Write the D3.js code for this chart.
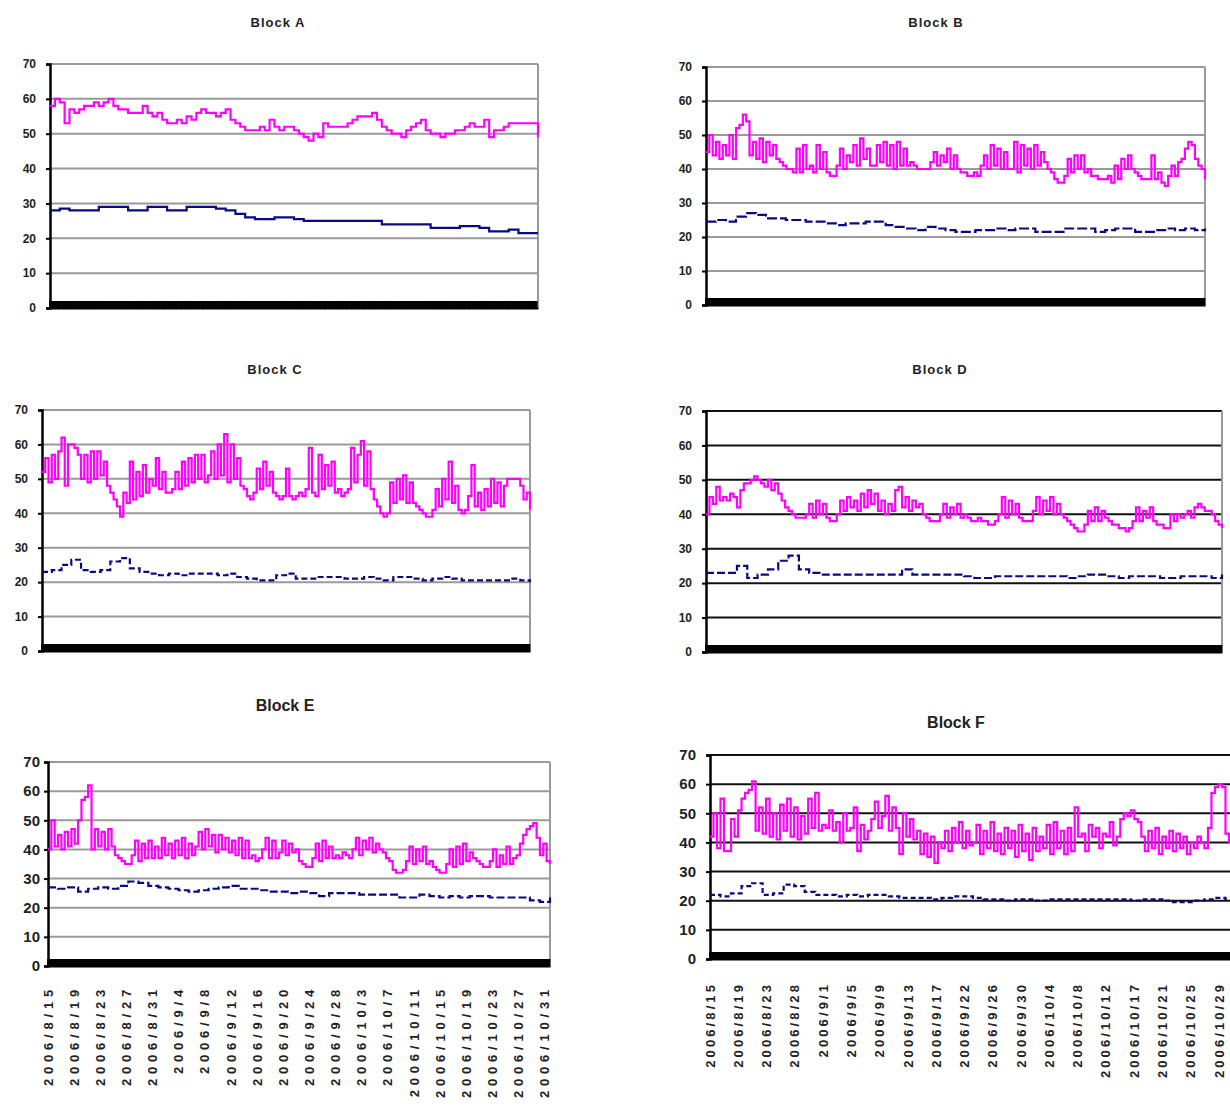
<!DOCTYPE html>
<html>
<head>
<meta charset="utf-8">
<script src="https://cdn.jsdelivr.net/npm/d3@7"></script>
<style>
body { margin: 0; background: #fff; }
svg { display: block; }
text { font-family: "Liberation Sans", Arial, sans-serif; fill: #222; }
</style>
</head>
<body>
<div id="chart"></div>
<script>
/* values */
var yTicks = [0, 10, 20, 30, 40, 50, 60, 70];

var labelsE = ["2006/8/15","2006/8/19","2006/8/23","2006/8/27","2006/8/31","2006/9/4","2006/9/8",
	"2006/9/12","2006/9/16","2006/9/20","2006/9/24","2006/9/28","2006/10/3","2006/10/7",
	"2006/10/11","2006/10/15","2006/10/19","2006/10/23","2006/10/27","2006/10/31"];
var labelsF = ["2006/8/15","2006/8/19","2006/8/23","2006/8/28","2006/9/1","2006/9/5","2006/9/9",
	"2006/9/13","2006/9/17","2006/9/22","2006/9/26","2006/9/30","2006/10/4","2006/10/8",
	"2006/10/12","2006/10/17","2006/10/21","2006/10/25","2006/10/29"];

var magentaA = [58,60,59,53,57,56,57,58,58,59,58,59,60,58,57,57,56,56,56,58,56,55,56,54,53,53,54,53,55,54,
	56,57,56,56,55,56,57,54,53,52,51,51,51,52,51,54,52,51,52,52,51,50,49,48,50,49,53,52,52,52,
	52,53,54,55,55,55,56,54,52,51,50,50,49,51,52,53,54,51,50,50,49,50,50,51,51,52,53,52,52,54,
	49,51,51,52,53,53,53,53,53,53,49];
var navyA = [28,28.5,28,28,28,29,29,29,28,28,29,29,28,28,29,29,29,28.5,28,27,26,25.5,25.5,26,26,25.5,
	25,25,25,25,25,25,25,25,24,24,24,24,24,23,23,23,23.5,23.5,23,22,22,22.5,21.5,21.5,21.5];

var magentaB = [45,50,44,48,43,47,44,50,43,52,53,56,54,44,48,43,49,42,48,44,47,43,42,41,40,40,
	39,46,39,47,40,41,39,47,40,45,39,38,38,41,46,40,44,42,47,41,49,43,46,41,41,47,42,48,
	41,47,40,48,41,46,41,42,41,40,40,40,40,42,45,41,44,42,46,40,44,40,39,39,38,38,39,38,
	41,44,40,47,41,46,40,45,40,40,48,39,47,41,46,40,47,41,45,42,40,39,37,36,36,
	38,43,39,44,40,44,39,40,38,38,37,37,37,38,36,41,37,43,40,44,40,39,38,37,37,37,44,
	37,39,36,35,38,41,38,42,43,46,48,47,43,41,40,37];
var navyB = [24.5,25,24.5,26,27,26.5,25.5,25.5,25,25,24.5,24.5,24,23.5,24,24,24.5,24.5,23.5,23,
	22.5,22,23,22.5,22,21.5,21.5,22,22,22.5,22,22.5,22.5,21.5,21.5,21.5,22.5,22.5,22.5,21.5,
	22,22.5,22.5,21.5,21.5,22,22.5,22,22.5,22,22.5];

var magentaC = [52,56,49,57,50,58,62,48,60,60,59,57,50,57,49,58,50,58,51,55,48,46,44,42,39,
	46,43,55,44,52,45,54,46,50,48,56,47,52,46,46,47,52,47,55,48,56,49,57,50,57,49,51,
	58,50,60,51,63,49,60,50,56,48,47,45,44,46,53,47,55,48,52,46,45,44,45,53,45,44,45,46,45,
	47,59,46,45,57,47,54,48,55,46,47,45,46,47,59,49,57,61,48,58,47,44,42,40,39,40,
	49,43,50,44,51,43,49,43,42,41,40,39,39,41,47,42,50,44,55,43,48,41,40,41,45,54,
	42,46,41,47,42,50,43,49,42,48,50,50,50,50,48,44,46,41];
var navyC = [23,23.5,25,26.5,23.5,23,23.5,26,27,24,23,22.5,22,22.5,22,22.5,22.5,22.5,22,22.5,
	21.5,21,20.5,20.5,22,22.5,21,21,21.5,21.5,21.5,21,21,21.5,21,20.5,21.5,21.5,21,20.5,
	21,21.5,21,20.5,20.5,20.5,20.5,20.5,21,20.5,20];

var magentaD = [40,45,43,48,44,45,44,46,45,42,47,49,49,50,51,50,49,48,50,47,49,46,44,42,
	41,40,39,39,39,40,43,39,44,40,43,39,38,38,40,44,41,45,42,44,41,46,42,47,43,46,41,
	44,40,43,41,47,48,42,45,41,44,42,43,40,39,38,38,38,40,43,39,42,40,43,39,
	40,39,38,38,39,38,38,37,37,38,40,45,39,44,40,43,39,38,38,38,41,45,40,44,41,45,40,
	43,40,39,38,37,36,35,35,37,41,38,42,38,41,39,38,37,37,36,36,35,36,38,42,38,41,39,42,38,
	37,37,36,36,40,38,40,39,40,41,39,42,43,42,41,41,40,38,37,36];
var navyD = [23,23,23,25,21.5,22.5,24,26.5,28,24,23,22.5,22.5,22.5,22.5,22.5,22.5,22.5,22.5,24,
	22.5,22.5,22.5,22.5,22.5,22,21.5,21.5,22,22,22,22,22,22,22,21.5,22,22.5,22.5,22,
	21.5,22,22,22,21.5,21.5,22,22,22,21.5,22.5];

var magentaE = [40,50,41,45,40,46,41,47,42,50,57,58,62,40,47,41,46,40,47,41,38,37,36,35,35,
	38,43,36,42,37,43,37,41,37,44,38,42,37,43,38,44,37,42,38,41,46,40,47,41,45,
	39,45,40,44,39,43,38,44,37,43,37,38,36,37,40,44,37,43,37,39,43,38,42,39,40,
	36,35,34,34,37,42,36,43,37,41,37,38,37,39,38,37,40,44,38,43,40,44,39,42,40,39,37,36,
	33,32,32,33,36,41,35,40,36,41,35,36,34,33,32,32,35,40,34,41,35,42,36,39,37,
	36,35,34,34,36,40,34,38,35,41,35,37,38,42,45,47,48,49,44,38,42,36,35];
var navyE = [27,26.5,27,25.5,26.5,27,26.5,27.5,29,28.5,27.5,27,26.5,26,25.5,26,26.5,27,27.5,26.5,
	26.5,26,25.5,25.5,25,25.5,25,24,25,25,25,24.5,24.5,24.5,24.5,23.5,23.5,24.5,24,23.5,
	24,23.5,24,24,23.5,23.5,23.5,23.5,22.5,22,23.5];

var magentaF = [42,50,38,55,37,37,48,42,51,55,57,58,61,44,52,43,55,42,50,41,53,44,55,
	42,52,41,49,43,55,45,57,44,46,45,51,44,47,40,50,44,45,52,37,46,41,
	44,48,54,45,49,56,44,52,45,36,50,42,48,41,44,36,43,35,42,33,40,
	38,44,37,45,40,47,38,44,39,40,46,36,44,38,47,37,43,36,45,38,
	44,35,46,37,43,34,45,37,42,38,46,36,47,38,44,36,45,37,52,
	42,43,37,46,42,45,38,43,42,47,39,42,48,50,49,51,48,47,42,
	37,44,38,45,36,42,38,44,37,43,38,42,36,40,38,42,40,38,45,57,59,60,59,43,40,38,39];
var navyF = [22,21.5,22.5,25,26,22,22.5,25.5,25,23,22,22,21.5,22,21.5,22,22,21.5,21,21,
	21,20.5,21,21.5,21.5,21,20.5,20.5,20,20.5,20.5,20,20.5,20.5,20.5,20.5,20.5,20.5,20.5,20.5,
	20,20.5,20.5,20,19.5,19.5,20,20.5,21,20.5,20.5];

/* layout of the six panels */
var panels = [
	{title: "Block A", tx: 278, ty: 22, tsize: 13, left: 50, right: 538, top: 64, bottom: 308,
	 lsize: 12, pad: 10, grid: "#9a9a9a", mag: magentaA, navy: navyA, dash: null},
	{title: "Block B", tx: 936, ty: 22, tsize: 13, left: 706, right: 1205, top: 67, bottom: 305,
	 lsize: 12, pad: 10, grid: "#9a9a9a", mag: magentaB, navy: navyB, dash: "10 3"},
	{title: "Block C", tx: 275, ty: 369, tsize: 13, left: 42, right: 530, top: 410, bottom: 651,
	 lsize: 12, pad: 10, grid: "#9a9a9a", mag: magentaC, navy: navyC, dash: "6 3"},
	{title: "Block D", tx: 940, ty: 369, tsize: 13, left: 706, right: 1222, top: 411, bottom: 652,
	 lsize: 12, pad: 10, grid: "#111", mag: magentaD, navy: navyD, dash: "8 3"},
	{title: "Block E", tx: 285, ty: 705, tsize: 16, left: 48, right: 550, top: 762, bottom: 966,
	 lsize: 15, pad: 4, grid: "#9a9a9a", mag: magentaE, navy: navyE, dash: "8 3",
	 labels: labelsE, span: 19.2, lspace: 4.8, loff: 19},
	{title: "Block F", tx: 956, ty: 722, tsize: 16, left: 710, right: 1236, top: 755, bottom: 959,
	 lsize: 15, pad: 10, grid: "#111", mag: magentaF, navy: navyF, dash: "5 3",
	 labels: labelsF, span: 18.6, lspace: 3.1, loff: 23}
];

var svg = d3.select("#chart")
	.append("svg")
	.attr("width", 1230)
	.attr("height", 1113);

panels.forEach(function(p) {
	var g = svg.append("g");

	var y = d3.scaleLinear().domain([0, 70]).range([p.bottom, p.top]);
	var xm = d3.scaleLinear().domain([0, p.mag.length - 1]).range([p.left, p.right]);
	var xn = d3.scaleLinear().domain([0, p.navy.length - 1]).range([p.left, p.right]);

	// title
	g.append("text")
		.attr("x", p.tx)
		.attr("y", p.ty)
		.attr("dy", "0.35em")
		.attr("text-anchor", "middle")
		.style("font-size", p.tsize + "px")
		.style("font-weight", "bold")
		.style("letter-spacing", p.tsize < 16 ? "1px" : "0px")
		.text(p.title);

	// gridlines
	g.selectAll(".grid")
		.data(yTicks.filter(function(d) { return d > 0; }))
		.enter()
		.append("line")
		.attr("class", "grid")
		.attr("x1", p.left)
		.attr("x2", p.right)
		.attr("y1", function(d) { return y(d); })
		.attr("y2", function(d) { return y(d); })
		.style("stroke", p.grid)
		.style("stroke-width", 2);

	// right border
	g.append("line")
		.attr("x1", p.right).attr("x2", p.right)
		.attr("y1", y(70)).attr("y2", y(0))
		.style("stroke", "#9a9a9a")
		.style("stroke-width", 2);

	// category axis: dense tick marks merge into the black band
	var xAxis = d3.axisBottom(xm)
		.tickValues(d3.range(0, p.mag.length - 1, 0.5))
		.tickSizeInner(-7)
		.tickSizeOuter(0)
		.tickFormat("");
	var gx = g.append("g")
		.attr("transform", "translate(0," + y(0) + ")")
		.call(xAxis);
	gx.selectAll("line").style("stroke", "#000").style("stroke-width", 3);
	gx.select(".domain").style("stroke", "#000").style("stroke-width", 2);

	// value axis
	var yAxis = d3.axisLeft(y)
		.tickValues(yTicks)
		.tickSize(4)
		.tickPadding(p.pad);
	var gy = g.append("g")
		.attr("transform", "translate(" + p.left + ",0)")
		.call(yAxis);
	gy.select(".domain").style("stroke", "#000").style("stroke-width", 2.5);
	gy.selectAll(".tick line").style("stroke", "#000").style("stroke-width", 2);
	gy.selectAll("text")
		.style("font-size", p.lsize + "px")
		.style("font-weight", "bold")
		.style("font-family", "'Liberation Sans', Arial, sans-serif")
		.style("fill", "#222");

	// series
	var magLine = d3.line()
		.x(function(d, i) { return xm(i); })
		.y(function(d) { return y(d); })
		.curve(d3.curveStepAfter);
	var navyLine = d3.line()
		.x(function(d, i) { return xn(i); })
		.y(function(d) { return y(d); })
		.curve(d3.curveStepAfter);

	g.append("path")
		.datum(p.navy)
		.attr("d", navyLine)
		.style("fill", "none")
		.style("stroke", "#0a0a80")
		.style("stroke-width", 2.2)
		.style("stroke-dasharray", p.dash);

	g.append("path")
		.datum(p.mag)
		.attr("d", magLine)
		.style("fill", "none")
		.style("stroke", "#ff00ff")
		.style("stroke-width", 2.2);

	// date labels under the bottom panels
	if (p.labels) {
		var xl = d3.scaleLinear().domain([0, p.span]).range([p.left, p.right]);
		g.selectAll(".lab")
			.data(p.labels)
			.enter()
			.append("text")
			.attr("class", "lab")
			.attr("transform", function(d, i) {
				return "translate(" + xl(i) + "," + (y(0) + p.loff) + ") rotate(-90)";
			})
			.attr("dy", "0.35em")
			.attr("text-anchor", "end")
			.style("font-size", "13px")
			.style("font-weight", "bold")
			.style("letter-spacing", p.lspace + "px")
			.text(function(d) { return d; });
	}
});
</script>
</body>
</html>
